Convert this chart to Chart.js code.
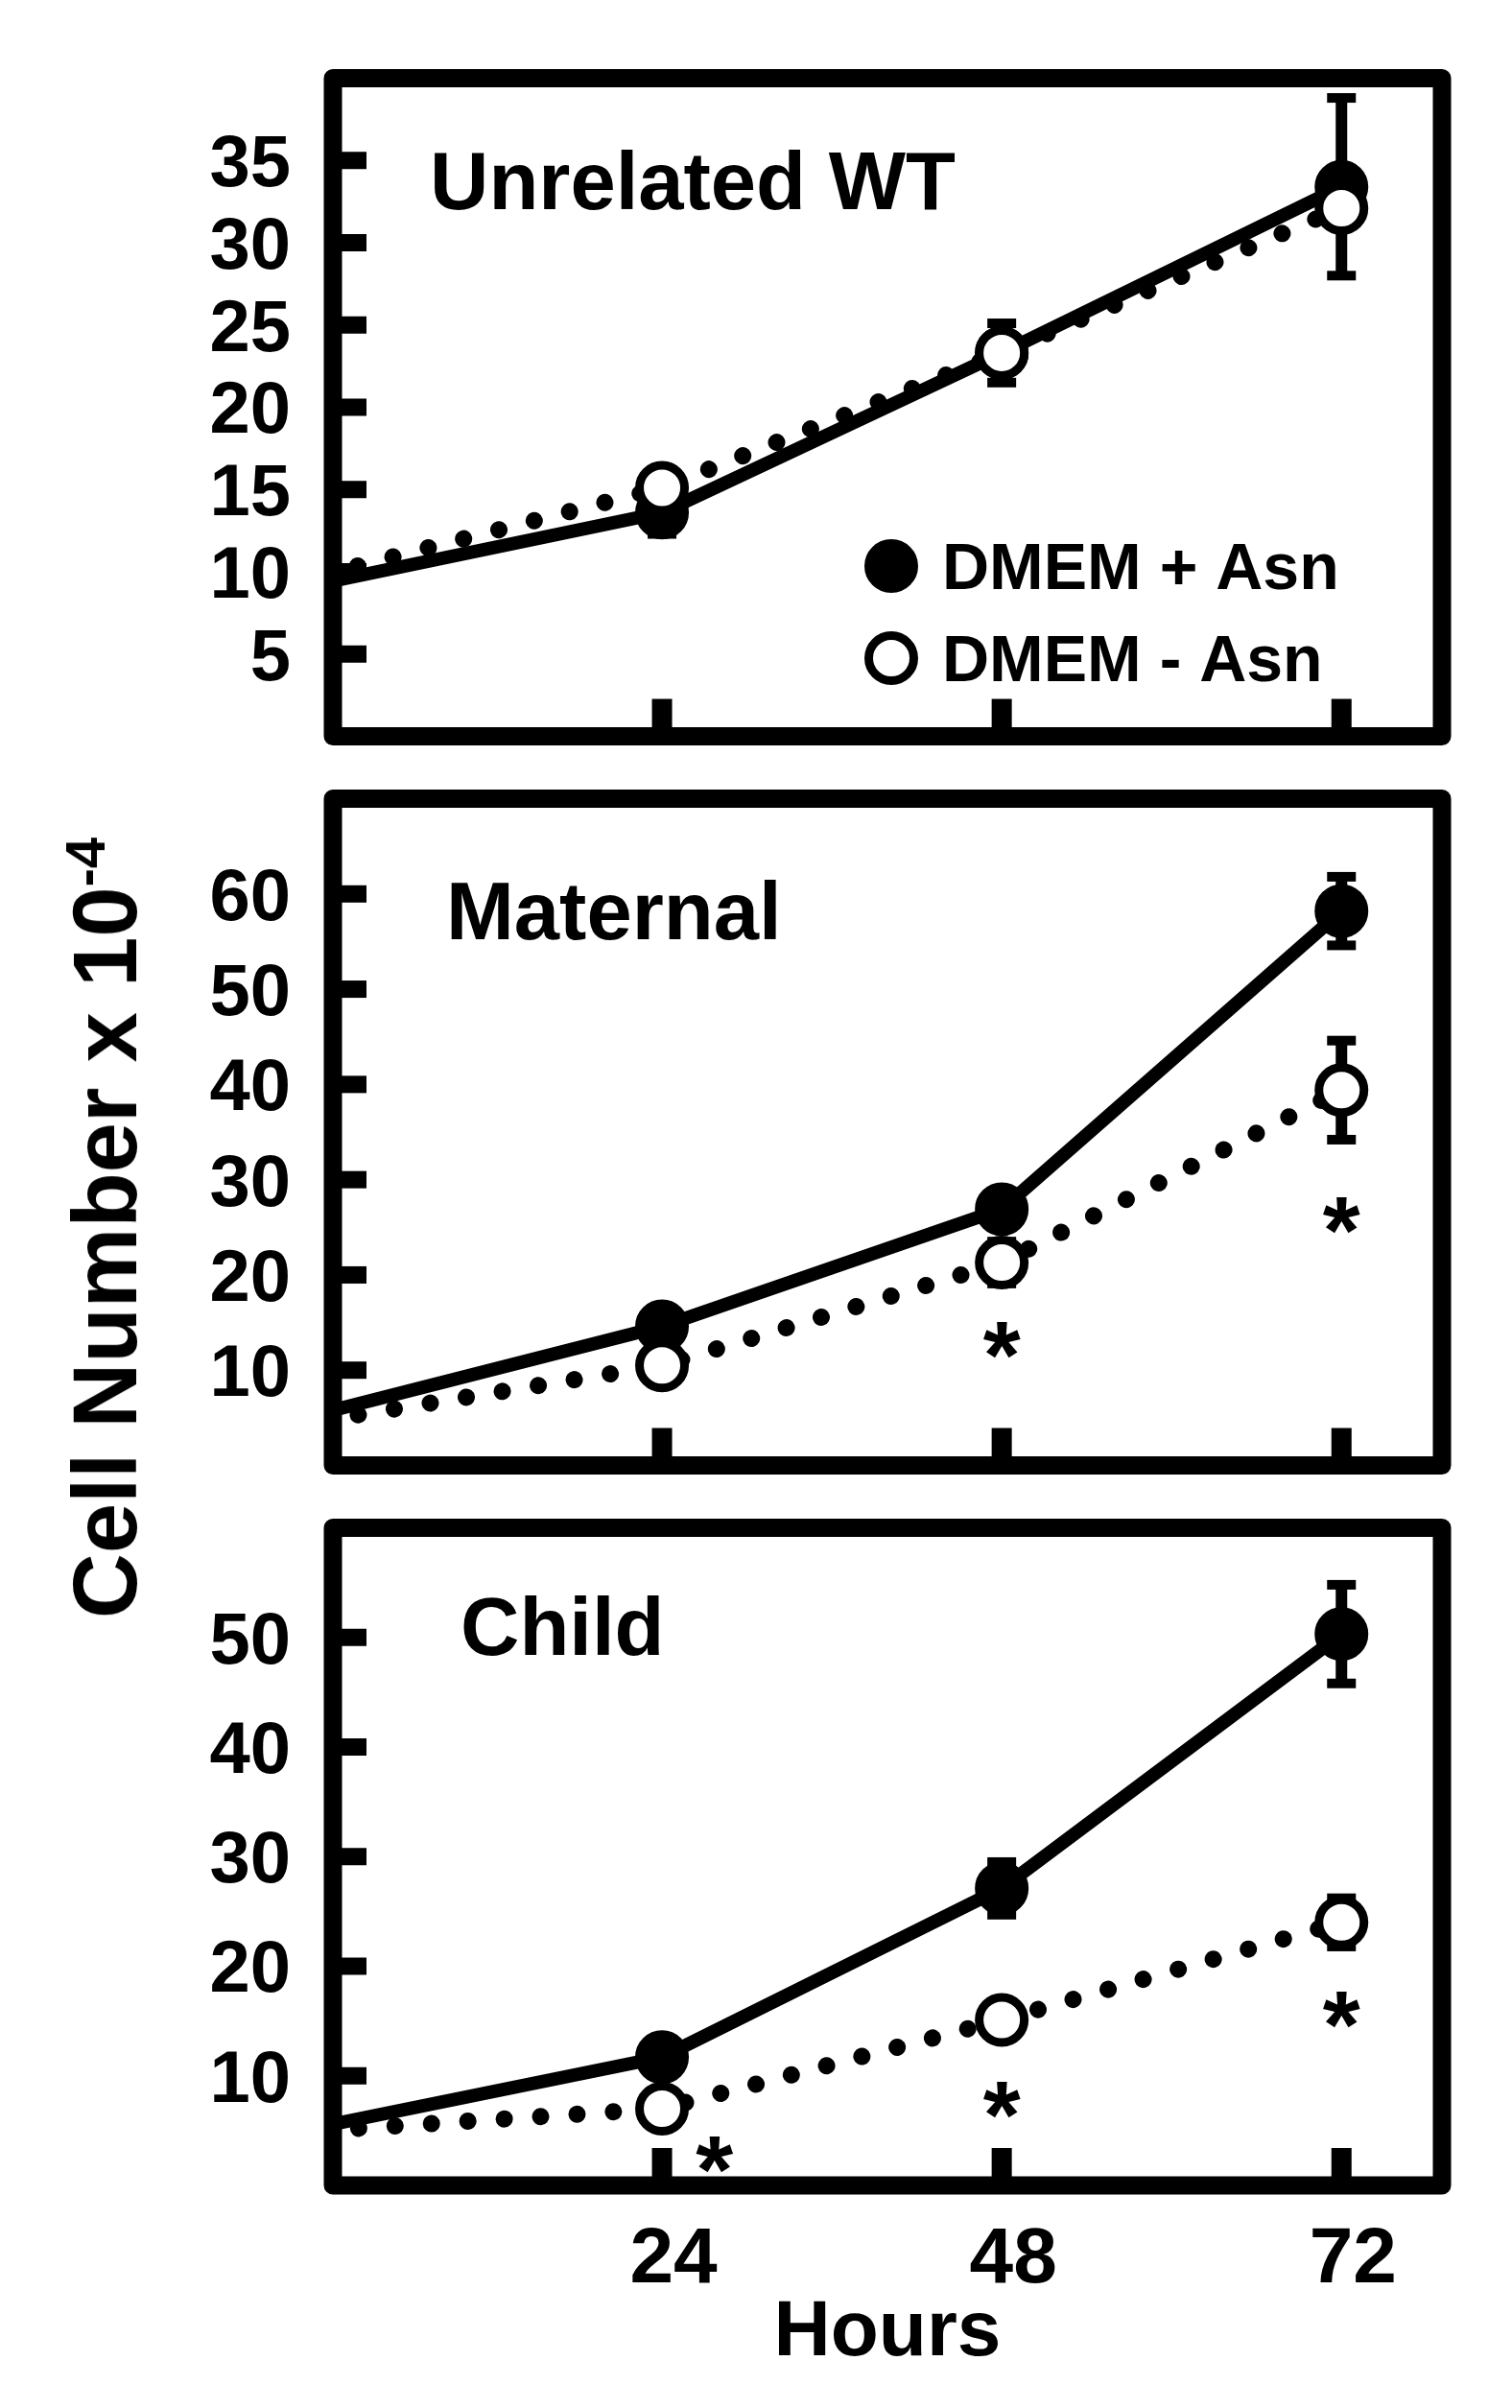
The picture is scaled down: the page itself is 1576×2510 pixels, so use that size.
<!DOCTYPE html>
<html>
<head>
<meta charset="utf-8">
<script src="https://cdn.jsdelivr.net/npm/chart.js@4.4.1/dist/chart.umd.min.js"></script>
<style>
  html, body { margin: 0; padding: 0; background: #fff; }
  body { width: 1576px; height: 2510px; position: relative; overflow: hidden; }
  .panel { position: absolute; left: 0; width: 1576px; }
  #yTitle {
    position: absolute; left: 110px; top: 1280px;
    transform: translate(-50%, -50%) rotate(-90deg);
    font-family: "Liberation Sans", Arial, sans-serif;
    font-weight: bold; font-size: 94px; line-height: 94px;
    white-space: nowrap; color: #000;
  }
  #yTitle sup { font-size: 58px; vertical-align: 33px; line-height: 0; }
</style>
</head>
<body>
<div class="panel" style="top:0;height:800px"><canvas id="chartWT"></canvas></div>
<div class="panel" style="top:800px;height:760px"><canvas id="chartMat"></canvas></div>
<div class="panel" style="top:1560px;height:950px"><canvas id="chartChild"></canvas></div>
<div id="yTitle">Cell Number x 10<sup>-4</sup></div>

<script>
// datos (horas vs celulas x 10^-4)
const hours = [0, 24, 48, 72];
const xTickHours = [24, 48, 72];

const wtPlus = [9.3, 13.6, 23.3, 33.4];
const wtPlusErr = [0, 1.3, 1.8, 5.4];
const wtMinus = [9.8, 15.1, 23.3, 32.1];
const wtMinusErr = [0, 0, 0, 0];
const wtTicks = [5, 10, 15, 20, 25, 30, 35];

const matPlus = [5.5, 14.6, 26.9, 58.2];
const matPlusErr = [0, 0, 0, 3.6];
const matMinus = [4.7, 10.5, 21.3, 39.4];
const matMinusErr = [0, 0, 2.2, 5.2];
const matTicks = [10, 20, 30, 40, 50, 60];
const matStarHours = [48, 72];
const matStarValues = [13.1, 26.2];

const childPlus = [5.4, 11.7, 27.1, 50.3];
const childPlusErr = [0, 0, 2.4, 4.5];
const childMinus = [5.0, 7.0, 15.1, 24.0];
const childMinusErr = [0, 0, 0, 2.2];
const childTicks = [10, 20, 30, 40, 50];
const childStarHours = [27.7, 48, 72];
const childStarValues = [2.8, 7.8, 16.0];

const FONT = '"Liberation Sans", Arial, Helvetica, sans-serif';

// estilos de las dos series
const filledStyle = {
  borderColor: '#000', borderWidth: 14,
  pointRadius: [0, 24, 24, 24], pointBackgroundColor: '#000',
  pointBorderColor: '#000', pointBorderWidth: 8
};
const openStyle = {
  borderColor: '#000', borderWidth: 18, borderDash: [0.01, 38], borderCapStyle: 'round',
  pointRadius: [0, 23.5, 23.5, 23.5], pointBackgroundColor: '#fff',
  pointBorderColor: '#000', pointBorderWidth: 9
};

// marco, marcas de eje, barras de error, asteriscos, titulo y leyenda
const decorPlugin = {
  id: 'panelDecor',
  beforeDatasetsDraw(chart) {
    const { ctx, scales: { x, y } } = chart;
    ctx.save();
    ctx.fillStyle = '#000';
    chart.data.datasets.forEach(ds => {
      ds.data.forEach((p, i) => {
        const e = ds.err[i];
        if (!e) return;
        const px = x.getPixelForValue(p.x);
        const top = y.getPixelForValue(p.y + e);
        const bot = y.getPixelForValue(p.y - e);
        ctx.fillRect(px - 6, top, 12, bot - top);
        ctx.fillRect(px - 15, top - 5, 30, 10);
        ctx.fillRect(px - 15, bot - 5, 30, 10);
      });
    });
    ctx.restore();
  },
  afterDatasetsDraw(chart, args, opts) {
    const { ctx, scales: { x, y } } = chart;
    if (!opts.starHours) return;
    ctx.save();
    ctx.fillStyle = '#000';
    ctx.font = 'bold 100px ' + FONT;
    ctx.textAlign = 'center';
    ctx.textBaseline = 'alphabetic';
    const m = ctx.measureText('*');
    const shift = (m.actualBoundingBoxAscent - m.actualBoundingBoxDescent) / 2;
    opts.starHours.forEach((h, i) => {
      ctx.fillText('*', x.getPixelForValue(h), y.getPixelForValue(opts.starValues[i]) + shift);
    });
    ctx.restore();
  },
  afterDraw(chart, args, opts) {
    const { ctx, chartArea: ca, scales: { x, y } } = chart;
    ctx.save();
    ctx.fillStyle = '#000';
    ctx.strokeStyle = '#000';
    // marcas hacia adentro
    y.ticks.forEach(t => {
      const py = y.getPixelForValue(t.value);
      ctx.fillRect(ca.left, py - 9, 35, 18);
    });
    x.ticks.forEach(t => {
      const px = x.getPixelForValue(t.value);
      ctx.fillRect(px - 10.5, ca.bottom - 39, 21, 39);
    });
    // marco
    ctx.lineWidth = 19;
    ctx.lineJoin = 'round';
    ctx.strokeRect(ca.left, ca.top, ca.right - ca.left, ca.bottom - ca.top);
    // titulo del panel
    ctx.font = 'bold 85px ' + FONT;
    ctx.textAlign = 'left';
    ctx.textBaseline = 'alphabetic';
    ctx.fillText(opts.title, ca.left + opts.titleDx, ca.top + opts.titleDy);
    // leyenda
    if (opts.legend) {
      const rows = [chart.data.datasets[1], chart.data.datasets[0]];
      ctx.font = 'bold 68px ' + FONT;
      rows.forEach((ds, i) => {
        const cx = ca.left + 582, cy = ca.top + 508.5 + i * 96;
        ctx.beginPath();
        ctx.arc(cx, cy, ds.pointRadius[1], 0, Math.PI * 2);
        ctx.fillStyle = ds.pointBackgroundColor;
        ctx.fill();
        ctx.lineWidth = ds.pointBorderWidth;
        ctx.strokeStyle = ds.pointBorderColor;
        ctx.stroke();
        ctx.fillStyle = '#000';
        ctx.fillText(ds.label, ca.left + 635, cy + 24);
      });
    }
    ctx.restore();
  }
};

function makePanel(id, cfg) {
  const toPts = arr => arr.map((v, i) => ({ x: hours[i], y: v }));
  return new Chart(document.getElementById(id), {
    type: 'line',
    data: {
      datasets: [
        Object.assign({ label: 'DMEM - Asn', data: toPts(cfg.minus), err: cfg.minusErr, order: 0 }, openStyle),
        Object.assign({ label: 'DMEM + Asn', data: toPts(cfg.plus), err: cfg.plusErr, order: 1 }, filledStyle)
      ]
    },
    options: {
      responsive: true,
      maintainAspectRatio: false,
      animation: false,
      events: [],
      layout: { padding: { top: cfg.padTop, right: 73, left: 0, bottom: 0 } },
      plugins: {
        legend: { display: false },
        tooltip: { enabled: false },
        panelDecor: {
          title: cfg.title, titleDx: cfg.titleDx, titleDy: cfg.titleDy,
          legend: cfg.legend, starHours: cfg.starHours, starValues: cfg.starValues
        }
      },
      scales: {
        x: {
          type: 'linear', min: 0.75, max: 79.1,
          grid: { display: false }, border: { display: false },
          afterBuildTicks: s => { s.ticks = xTickHours.map(v => ({ value: v })); },
          afterFit: s => { s.height = cfg.xAxisHeight; s.paddingLeft = 0; s.paddingRight = 0; },
          ticks: {
            display: cfg.showX, color: '#000', padding: 21, labelOffset: 12,
            maxRotation: 0, autoSkip: false,
            font: { family: FONT, size: 82, weight: 'bold' }
          },
          title: {
            display: cfg.showX, text: 'Hours', color: '#000',
            font: { family: FONT, size: 82, weight: 'bold' },
            padding: { top: 0, bottom: 28 }
          }
        },
        y: {
          min: 0, max: cfg.yMax,
          grid: { display: false }, border: { display: false },
          afterBuildTicks: s => { s.ticks = cfg.yTicks.map(v => ({ value: v })); },
          afterFit: s => { s.width = 347; s.paddingTop = 0; s.paddingBottom = 0; },
          ticks: {
            color: '#000', padding: 36, labelOffset: 6,
            font: { family: FONT, size: 76, weight: 'bold' }
          }
        }
      }
    },
    plugins: [decorPlugin]
  });
}

makePanel('chartWT', {
  plus: wtPlus, plusErr: wtPlusErr, minus: wtMinus, minusErr: wtMinusErr,
  yMax: 40, yTicks: wtTicks, padTop: 81.5, xAxisHeight: 18, showX: false,
  title: 'Unrelated WT', titleDx: 101, titleDy: 136.5, legend: true
});
makePanel('chartMat', {
  plus: matPlus, plusErr: matPlusErr, minus: matMinus, minusErr: matMinusErr,
  yMax: 70, yTicks: matTicks, padTop: 22, xAxisHeight: 15, showX: false,
  title: 'Maternal', titleDx: 118, titleDy: 146,
  starHours: matStarHours, starValues: matStarValues
});
makePanel('chartChild', {
  plus: childPlus, plusErr: childPlusErr, minus: childMinus, minusErr: childMinusErr,
  yMax: 60, yTicks: childTicks, padTop: 18, xAxisHeight: 232, showX: true,
  title: 'Child', titleDx: 133, titleDy: 132,
  starHours: childStarHours, starValues: childStarValues
});
</script>
</body>
</html>
